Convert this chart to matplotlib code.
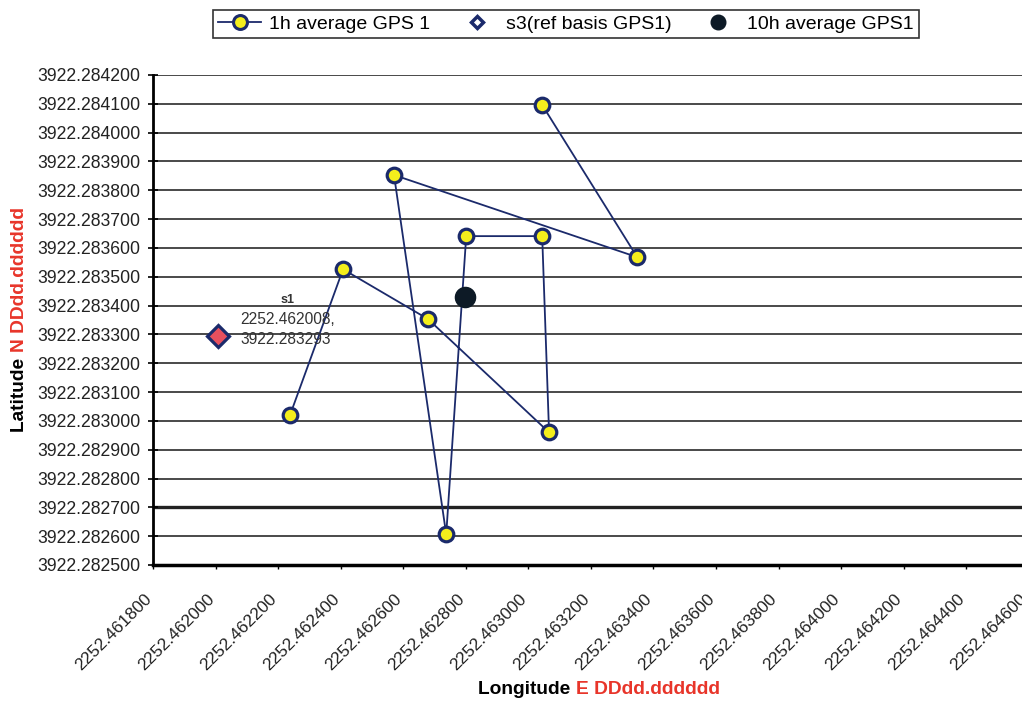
import matplotlib
matplotlib.use("Agg")
import matplotlib.pyplot as plt
import matplotlib.transforms as mtransforms
import numpy as np
from matplotlib.lines import Line2D

plt.rcParams['font.family'] = ['Liberation Sans', 'DejaVu Sans']

# 1h averages GPS 1, in the order the track connects them
lon_1h = [2252.462237, 2252.462407, 2252.462679, 2252.463066, 2252.463044,
          2252.462801, 2252.462737, 2252.462570, 2252.463348, 2252.463044]
lat_1h = [3922.283019, 3922.283526, 3922.283353, 3922.282960, 3922.283641,
          3922.283641, 3922.282606, 3922.283853, 3922.283568, 3922.284096]

# reference point s3 and 10h average
lon_ref = [2252.462008]
lat_ref = [3922.283293]
ref_label = "2252.462008,\n3922.283293"
lon_10h = [2252.462797]
lat_10h = [3922.283429]

xticks = np.round(np.arange(2252.4618, 2252.46461, 0.0002), 6)
yticks = np.round(np.arange(3922.2825, 3922.28421, 0.0001), 6)

navy = '#1b2a6b'

fig = plt.figure(figsize=(10.22, 7.05), dpi=100)
ax = fig.add_axes([153.3 / 1022, 140 / 705, (1028.6 - 153.3) / 1022, 490 / 705])

for y in yticks:
    if abs(y - 3922.2827) < 1e-7:
        ax.axhline(y, color='#222222', lw=2.4, zorder=1)
    else:
        ax.axhline(y, color='#3a3a3a', lw=1.3, zorder=1)

ax.plot(lon_1h, lat_1h, '-o', color=navy, lw=1.3, markersize=10.5,
        markerfacecolor='#f4ee1c', markeredgecolor=navy, markeredgewidth=2.3, zorder=3)
ax.plot(lon_ref, lat_ref, 'D', markersize=11, markerfacecolor='#e8505e',
        markeredgecolor=navy, markeredgewidth=2.3, zorder=4)
ax.plot(lon_10h, lat_10h, 'o', markersize=14.5, color='#0d1a26', zorder=5)

ax.text(lon_ref[0] + 0.00022, lat_ref[0] + 0.000125, "s1", fontsize=9, fontweight='bold',
        color='#333333', ha='center', va='center')
ax.text(lon_ref[0] + 0.00007, lat_ref[0] + 0.000024, ref_label, fontsize=11.2, color='#333333',
        ha='left', va='center', linespacing=1.35)

ax.set_xlim(2252.4618, 2252.4646)
ax.set_ylim(3922.2825, 3922.2842)
ax.set_xticks(xticks)
ax.set_yticks(yticks)
ax.set_xticklabels([f"{v:.6f}" for v in xticks], rotation=45, ha='right', va='center',
                   rotation_mode='anchor', fontsize=12.4, color='#222222')
ax.set_yticklabels([f"{v:.6f}" for v in yticks], fontsize=12.7, color='#222222')
ax.tick_params(axis='y', direction='inout', length=7, width=1.2, pad=6)
ax.tick_params(axis='x', direction='out', length=3, width=1, pad=20)
shift = mtransforms.ScaledTranslation(-4 / 100, 0, fig.dpi_scale_trans)
for lab in ax.get_xticklabels():
    lab.set_transform(lab.get_transform() + shift)

for s in ['top', 'right']:
    ax.spines[s].set_visible(False)
ax.spines['left'].set_linewidth(2)
ax.spines['bottom'].set_linewidth(2.5)

# axis titles in two colours
fig.text(576 / 1022, 1 - 690 / 705, "Longitude ", fontsize=13.8, fontweight='bold',
         color='black', ha='right', va='center')
fig.text(576 / 1022, 1 - 690 / 705, "E DDdd.dddddd", fontsize=13.8, fontweight='bold',
         color='#e8352a', ha='left', va='center')
fig.text(20 / 1022, 1 - 352 / 705, "Latitude ", fontsize=13.8, fontweight='bold',
         color='black', rotation=90, ha='center', va='top')
fig.text(20 / 1022, 1 - 352 / 705, "N DDdd.dddddd", fontsize=13.8, fontweight='bold',
         color='#e8352a', rotation=90, ha='center', va='bottom')

handles = [
    Line2D([], [], color=navy, lw=1.3, marker='o', markersize=10, markerfacecolor='#f4ee1c',
           markeredgecolor=navy, markeredgewidth=2.2),
    Line2D([], [], ls='none', marker='D', markersize=6, markerfacecolor='white',
           markeredgecolor=navy, markeredgewidth=2.5),
    Line2D([], [], ls='none', marker='o', markersize=10.5, color='#0d1a26'),
]
labels = ["1h average GPS 1", "s3(ref basis GPS1)", "10h average GPS1"]
leg = fig.legend(handles, labels, loc='center', bbox_to_anchor=(566 / 1022, 1 - 24 / 705),
                 ncol=3, fontsize=14, frameon=True, fancybox=False, edgecolor='black',
                 handlelength=2.2, columnspacing=1.3, handletextpad=0.4, borderpad=0.25,
                 borderaxespad=0)
leg.get_frame().set_linewidth(1.2)

plt.savefig("out.png", dpi=100)
